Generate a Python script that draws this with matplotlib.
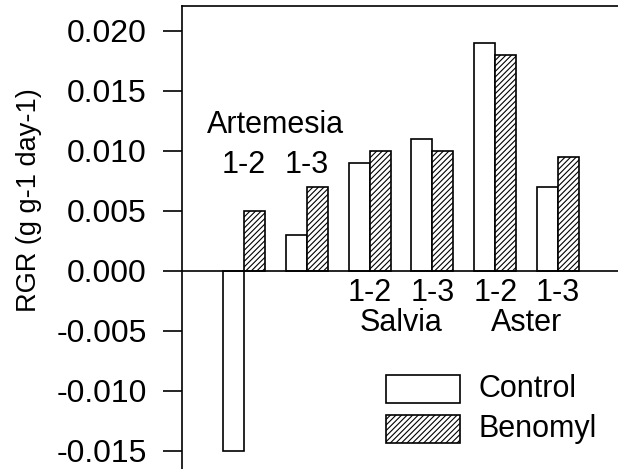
import numpy as np
import matplotlib
matplotlib.use('Agg')
import matplotlib.pyplot as plt
from matplotlib.patches import Rectangle

# Relative growth rate by species and pairing
pairs = ['1-2', '1-3', '1-2', '1-3', '1-2', '1-3']
species = ['Artemesia', 'Salvia', 'Aster']
control = [-0.015, 0.003, 0.009, 0.011, 0.019, 0.007]
benomyl = [0.005, 0.007, 0.010, 0.010, 0.018, 0.0095]
yticks = [-0.015, -0.010, -0.005, 0.000, 0.005, 0.010, 0.015, 0.020]

plt.rcParams.update({
    'font.family': 'Liberation Sans',
    'font.size': 22,
    'hatch.linewidth': 0.8,
    'axes.linewidth': 1.2,
})

W, H = 618, 469
fig = plt.figure(figsize=(W / 100, H / 100), dpi=100)
ax = fig.add_axes([182 / W, 0, (W - 182) / W, 1 - 6 / H])

x = np.arange(len(pairs))
w = 0.335
ax.bar(x - w / 2, control, w, color='white', edgecolor='black', linewidth=1.2)
ax.bar(x + w / 2, benomyl, w, color='white', edgecolor='black', linewidth=1.2,
       hatch='//////')

ax.set_xlim(-0.987, 5.955)
ax.set_ylim(-0.0165, 0.022083)
ax.axhline(0, color='black', linewidth=1.2)

ax.set_xticks([])
ax.set_yticks(yticks)
ax.set_yticklabels(['%.3f' % v for v in yticks], fontsize=23)
ax.tick_params(axis='y', direction='out', length=13.7, width=1.2, pad=11.5)
ax.spines['right'].set_visible(False)
ax.spines['bottom'].set_visible(False)

fig.text(29 / W, 1 - 200 / H, 'RGR (g g-1 day-1)', rotation=90,
         ha='center', va='center', fontsize=19.5)

# pair labels: above for Artemesia, below zero line for the rest
for i, p in enumerate(pairs):
    if i < 2:
        ax.text(i, 0.00883, p, ha='center', va='center')
    else:
        ax.text(i, -0.00183, p, ha='center', va='center')

ax.text(0.5, 0.0122, species[0], ha='center', va='center')
ax.text(2.5, -0.00433, species[1], ha='center', va='center')
ax.text(4.5, -0.00433, species[2], ha='center', va='center')


def ypix(p):
    return (271 - p) * 0.005 / 60


# legend boxes
lx0, lx1 = (386 - 244) / 62.8, (460 - 244) / 62.8
ax.add_patch(Rectangle((lx0, ypix(403)), lx1 - lx0, ypix(375) - ypix(403),
                       facecolor='white', edgecolor='black', linewidth=1.2))
ax.add_patch(Rectangle((lx0, ypix(443)), lx1 - lx0, ypix(415) - ypix(443),
                       facecolor='white', edgecolor='black', linewidth=1.2,
                       hatch='//////'))
tx = (478 - 244) / 62.8
ax.text(tx, ypix(389), 'Control', va='center', ha='left')
ax.text(tx, ypix(429), 'Benomyl', va='center', ha='left')

fig.savefig('out.png', dpi=100)
